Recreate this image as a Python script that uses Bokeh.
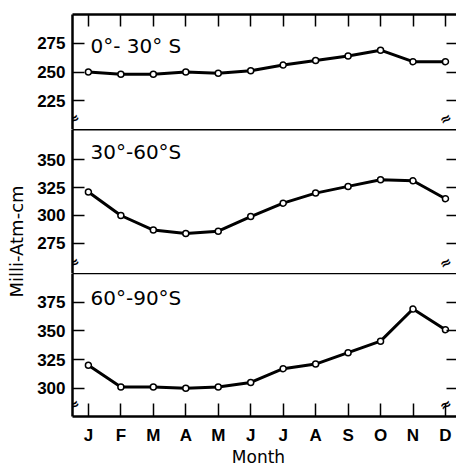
from bokeh.plotting import figure
from bokeh.models import (Range1d, LinearAxis, FixedTicker, Label)
from bokeh.layouts import row, column
from bokeh.embed import file_html
from bokeh.resources import INLINE
from math import pi

months = ["J", "F", "M", "A", "M", "J", "J", "A", "S", "O", "N", "D"]
x_idx = list(range(12))

band_0_30 = [250, 248, 248, 250, 249, 251, 256, 260, 264, 269, 259, 259]
band_30_60 = [321, 300, 287, 284, 286, 299, 311, 320, 326, 332, 331, 315]
band_60_90 = [320, 301, 301, 300, 301, 305, 317, 321, 331, 341, 369, 351]

titles = ["0°- 30° S", "30°-60°S", "60°-90°S"]
y_ticks = [[225, 250, 275], [275, 300, 325, 350], [300, 325, 350, 375]]
y_lims = [(200, 300), (248.2, 376.8), (275.3, 400)]

TICK_FONT = "Liberation Sans"
TEXT_FONT = "DejaVu Sans"

x_range = Range1d(-0.49, 11.34)


def tick_only_axis(ticks, tick_in, line_color="black", line_width=2.5):
    # ticks drawn as minor ticks so that no tick labels are produced
    ax = LinearAxis(ticker=FixedTicker(ticks=[], minor_ticks=ticks))
    ax.major_tick_in = 0
    ax.major_tick_out = 0
    ax.minor_tick_in = tick_in
    ax.minor_tick_out = 0
    ax.minor_tick_line_width = 1.5
    ax.minor_tick_line_color = "black"
    ax.major_label_standoff = 0
    ax.axis_line_color = line_color
    ax.axis_line_width = line_width
    return ax


def make_panel(i, series, height, top_border, bottom_border, bottom):
    p = figure(width=424, height=height, x_range=x_range,
               y_range=Range1d(*y_lims[i]),
               x_axis_location=None, y_axis_location=None,
               toolbar_location=None, output_backend="svg",
               min_border_left=40, min_border_right=0,
               min_border_top=top_border, min_border_bottom=bottom_border)
    p.outline_line_color = None
    p.background_fill_color = "white"
    p.border_fill_color = "white"
    p.xgrid.visible = False
    p.ygrid.visible = False

    # top edge / divider
    if i == 0:
        top = tick_only_axis(x_idx, 12, line_width=2.5)
    else:
        top = tick_only_axis([], 0, line_width=2.2 if i == 1 else 1.5)
    p.add_layout(top, "above")

    left = LinearAxis(ticker=FixedTicker(ticks=y_ticks[i]))
    left.major_tick_in = 12
    left.major_tick_out = 0
    left.minor_tick_in = 0
    left.minor_tick_out = 0
    left.major_tick_line_width = 1.5
    left.axis_line_width = 2.5
    left.major_label_standoff = 7
    left.major_label_text_font = TICK_FONT
    left.major_label_text_font_style = "bold"
    left.major_label_text_font_size = "17px"
    left.major_label_text_color = "black"
    p.add_layout(left, "left")

    right = tick_only_axis(y_ticks[i], 10, line_color=None)
    p.add_layout(right, "right")

    if bottom:
        b = LinearAxis(ticker=FixedTicker(ticks=x_idx))
        b.major_label_overrides = {k: m for k, m in zip(x_idx, months)}
        b.major_tick_in = 13
        b.major_tick_out = 0
        b.minor_tick_in = 0
        b.minor_tick_out = 0
        b.major_tick_line_width = 1.5
        b.axis_line_width = 2.5
        b.major_label_standoff = 9
        b.major_label_text_font = TICK_FONT
        b.major_label_text_font_style = "bold"
        b.major_label_text_font_size = "17px"
        b.major_label_text_color = "black"
        p.add_layout(b, "below")

    p.line(x_idx, series, line_color="black", line_width=3)
    p.scatter(x_idx, series, size=6, marker="circle", fill_color="white",
              line_color="black", line_width=1.5)

    offs = [19, 10, 12][i]
    p.add_layout(Label(x=x_range.start, y=y_lims[i][1], x_offset=18, y_offset=-offs,
                       text=titles[i], text_baseline="top", text_align="left",
                       text_font=TEXT_FONT, text_font_size="20px",
                       text_color="black"))
    for xx, xo in ((x_range.start, 1), (x_range.end, -11)):
        p.add_layout(Label(x=xx, y=y_lims[i][0], x_offset=xo,
                           y_offset=11 if i < 2 else 12,
                           text="≈", text_align="center", text_baseline="middle",
                           text_font=TEXT_FONT, text_font_size="14px",
                           text_font_style="bold", text_color="black", angle=0.5))
    return p


p1 = make_panel(0, band_0_30, 129, 14, 0, False)
p2 = make_panel(1, band_30_60, 144, 0, 0, False)
p3 = make_panel(2, band_60_90, 175, 0, 32, True)

# x-axis title strip under the panels
mf = figure(width=424, height=17, x_range=x_range, y_range=Range1d(0, 17),
            toolbar_location=None, output_backend="svg",
            x_axis_location=None, y_axis_location=None,
            min_border_left=40, min_border_right=0, min_border_top=0,
            min_border_bottom=0)
mf.outline_line_color = None
mf.xgrid.visible = False
mf.ygrid.visible = False
mf.add_layout(Label(x=5.24, y=9, text="Month", text_align="center",
                    text_baseline="middle", text_font=TEXT_FONT,
                    text_font_size="17px", text_color="black"))

lab = figure(width=32, height=465, x_range=Range1d(0, 32), y_range=Range1d(0, 465),
             toolbar_location=None, output_backend="svg",
             x_axis_location=None, y_axis_location=None,
             min_border=0)
lab.outline_line_color = None
lab.xgrid.visible = False
lab.ygrid.visible = False
lab.add_layout(Label(x=16, y=465 - 241, text="Milli-Atm-cm", angle=pi / 2,
                     text_align="center", text_baseline="middle",
                     text_font=TEXT_FONT, text_font_size="18px", text_color="black"))

layout = row(lab, column(p1, p2, p3, mf))
open("out.html", "w").write(file_html(layout, INLINE))
